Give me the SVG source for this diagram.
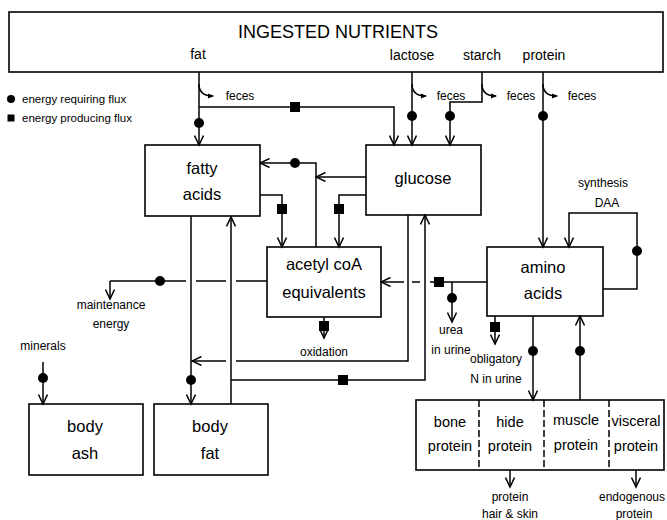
<svg xmlns="http://www.w3.org/2000/svg" width="667" height="520" viewBox="0 0 667 520">
<defs>
<style>
text{font-family:"Liberation Sans",Arial,sans-serif;fill:#000;text-anchor:middle}
.box{fill:#fff;stroke:#000;stroke-width:1.6}
.ln{fill:none;stroke:#000;stroke-width:1.5}
.lab{font-size:16.5px}
.pl{font-size:14.5px}
.sm{font-size:12px}
.lg{font-size:11.5px;text-anchor:start}
.req{fill:#000}
.prod{fill:#000}
.div{stroke:#000;stroke-width:1.5;stroke-dasharray:7,3}
</style>
<marker id="a" viewBox="0 0 12 10" refX="10.5" refY="5" markerWidth="12" markerHeight="10" orient="auto" markerUnits="userSpaceOnUse">
<path d="M1,0.5 L10.5,5 L1,9.5" fill="none" stroke="#000" stroke-width="1.5"/>
</marker>
<marker id="f" viewBox="0 0 6 6" refX="5" refY="3" markerWidth="6" markerHeight="6" orient="auto" markerUnits="userSpaceOnUse">
<path d="M0,0.5 L6,3 L0,5.5 z" fill="#000"/>
</marker>
</defs>
<rect width="667" height="520" fill="#fff"/>

<g id="ingested">
<rect class="box" x="9" y="12" width="654" height="60"/>
<text x="338" y="38" style="font-size:18px">INGESTED NUTRIENTS</text>
<text x="198" y="59" style="font-size:14px">fat</text>
<text x="412" y="60" style="font-size:14px">lactose</text>
<text x="482" y="60" style="font-size:14px">starch</text>
<text x="544" y="60" style="font-size:14px">protein</text>
</g>

<g id="legend">
<circle class="req" cx="11" cy="99" r="4"/>
<text class="lg" x="22" y="103">energy requiring flux</text>
<rect class="prod" x="7.5" y="114.5" width="7" height="7"/>
<text class="lg" x="22" y="122">energy producing flux</text>
</g>

<g id="fatty-acids">
<rect class="box" x="145" y="145" width="115" height="71"/>
<text class="lab" x="202" y="174">fatty</text>
<text class="lab" x="202" y="200">acids</text>
</g>

<g id="glucose">
<rect class="box" x="366" y="145" width="115" height="70"/>
<text class="lab" x="423" y="184">glucose</text>
</g>

<g id="acetyl-coa">
<rect class="box" x="267" y="247" width="114" height="70"/>
<text class="lab" x="324" y="270">acetyl coA</text>
<text class="lab" x="324" y="298">equivalents</text>
</g>

<g id="amino-acids">
<rect class="box" x="487" y="247" width="116" height="69"/>
<text class="lab" x="543" y="273">amino</text>
<text class="lab" x="543" y="299">acids</text>
</g>

<g id="body-ash">
<rect class="box" x="29" y="404" width="114" height="71"/>
<text class="lab" x="85" y="432">body</text>
<text class="lab" x="85" y="459">ash</text>
</g>

<g id="body-fat">
<rect class="box" x="154" y="404" width="114" height="71"/>
<text class="lab" x="210" y="432">body</text>
<text class="lab" x="210" y="459">fat</text>
</g>

<g id="body-protein">
<rect class="box" x="416" y="400" width="248" height="70"/>
<line class="div" x1="479" y1="400" x2="479" y2="470"/>
<line class="div" x1="544" y1="400" x2="544" y2="470"/>
<line class="div" x1="609" y1="400" x2="609" y2="470"/>
<text class="pl" x="450" y="427">bone</text>
<text class="pl" x="450" y="451">protein</text>
<text class="pl" x="510" y="427">hide</text>
<text class="pl" x="510" y="451">protein</text>
<text class="pl" x="576" y="425">muscle</text>
<text class="pl" x="576" y="450">protein</text>
<text class="pl" x="636" y="426">visceral</text>
<text class="pl" x="636" y="451">protein</text>
</g>

<g id="connectors">
<!-- feces hooks -->
<path class="ln" d="M199,84 Q199,96 213,96" marker-end="url(#f)"/>
<path class="ln" d="M412,84 Q412,96 426,96" marker-end="url(#f)"/>
<path class="ln" d="M482,84 Q482,96 496,96" marker-end="url(#f)"/>
<path class="ln" d="M543,84 Q543,96 557,96" marker-end="url(#f)"/>
<text class="sm" x="240" y="100">feces</text>
<text class="sm" x="451" y="100">feces</text>
<text class="sm" x="521" y="100">feces</text>
<text class="sm" x="582" y="100">feces</text>

<!-- fat -> fatty acids -->
<path class="ln" d="M199,72 V145" marker-end="url(#a)"/>
<circle cx="199" cy="123" r="5"/>
<!-- fat -> glucose -->
<path class="ln" d="M199,107 H394 V145" marker-end="url(#a)"/>
<rect x="290" y="102" width="10" height="10"/>
<!-- lactose -> glucose -->
<path class="ln" d="M412,72 V145" marker-end="url(#a)"/>
<circle cx="412" cy="116" r="5"/>
<!-- starch -> glucose -->
<path class="ln" d="M482,72 V102 H450 V145" marker-end="url(#a)"/>
<circle cx="450" cy="116" r="5"/>
<!-- protein -> amino acids -->
<path class="ln" d="M543,72 V247" marker-end="url(#a)"/>
<circle cx="543" cy="116" r="5"/>

<!-- acetyl -> fatty acids -->
<path class="ln" d="M316,247 V163 H260" marker-end="url(#a)"/>
<circle cx="295" cy="163" r="5"/>
<!-- glucose -> synthesis path -->
<path class="ln" d="M366,177 H316" marker-end="url(#a)"/>
<!-- fatty acids -> acetyl -->
<path class="ln" d="M260,195 H282 V247" marker-end="url(#a)"/>
<rect x="277" y="204" width="10" height="10"/>
<!-- glucose -> acetyl -->
<path class="ln" d="M366,195 H339 V247" marker-end="url(#a)"/>
<rect x="334" y="204" width="10" height="10"/>

<!-- amino -> acetyl -->
<path class="ln" d="M487,282 H430 M420,282 H412" />
<path class="ln" d="M404,282 H381" marker-end="url(#a)"/>
<rect x="434" y="277" width="10" height="10"/>
<!-- urea -->
<path class="ln" d="M452,282 V322" marker-end="url(#a)"/>
<circle cx="452" cy="298" r="5"/>
<text class="sm" x="451" y="334">urea</text>
<text class="sm" x="451" y="354">in urine</text>
<!-- obligatory N -->
<path class="ln" d="M495,316 V344" marker-end="url(#a)"/>
<rect x="490" y="322" width="10" height="10"/>
<text class="sm" x="496" y="363">obligatory</text>
<text class="sm" x="496" y="383">N in urine</text>

<!-- acetyl -> maintenance energy -->
<path class="ln" d="M267,281 H236 M226,281 H196 M186,281 H110" />
<path class="ln" d="M110,281 V299" marker-end="url(#a)"/>
<circle cx="160" cy="281" r="5"/>
<text class="sm" x="111" y="309">maintenance</text>
<text class="sm" x="111" y="328">energy</text>
<!-- oxidation -->
<path class="ln" d="M324,317 V338" marker-end="url(#a)"/>
<rect x="319" y="321" width="10" height="10"/>
<text class="sm" x="324" y="356">oxidation</text>

<!-- glucose -> fatty acids/body fat line -->
<path class="ln" d="M408,215 V361 H236" />
<path class="ln" d="M226,361 H192" marker-end="url(#a)"/>
<!-- body fat -> glucose -->
<path class="ln" d="M231,380 H425 V215" marker-end="url(#a)"/>
<rect x="338" y="375" width="10" height="10"/>
<!-- body fat -> fatty acids -->
<path class="ln" d="M231,404 V217" marker-end="url(#a)"/>
<!-- fatty acids -> body fat -->
<path class="ln" d="M191,216 V404" marker-end="url(#a)"/>
<circle cx="191" cy="380" r="5"/>

<!-- minerals -> body ash -->
<text class="sm" x="43" y="350">minerals</text>
<path class="ln" d="M43,362 V404" marker-end="url(#a)"/>
<circle cx="43" cy="378" r="5"/>

<!-- amino <-> protein -->
<path class="ln" d="M533,316 V400" marker-end="url(#a)"/>
<circle cx="533" cy="351" r="5"/>
<path class="ln" d="M580,400 V316" marker-end="url(#a)"/>
<circle cx="580" cy="351" r="5"/>

<!-- DAA synthesis loop -->
<path class="ln" d="M603,289 H637 V213 H569 V247" marker-end="url(#a)"/>
<circle cx="637" cy="251" r="5"/>
<text class="sm" x="603" y="187">synthesis</text>
<text class="sm" x="607" y="207">DAA</text>

<!-- outputs from protein pools -->
<path class="ln" d="M510,470 V487" marker-end="url(#a)"/>
<text class="sm" x="510" y="501">protein</text>
<text class="sm" x="510" y="518">hair &amp; skin</text>
<path class="ln" d="M636,470 V487" marker-end="url(#a)"/>
<text class="sm" x="632" y="501">endogenous</text>
<text class="sm" x="634" y="518">protein</text>
</g>
</svg>
